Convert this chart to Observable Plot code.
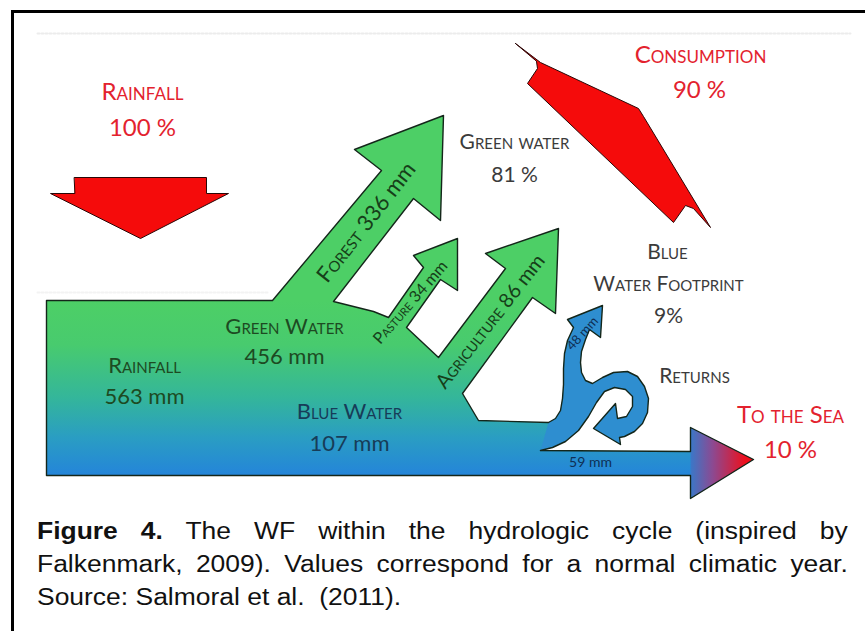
<!DOCTYPE html>
<html><head><meta charset="utf-8">
<script src="https://cdn.jsdelivr.net/npm/d3@7"></script>
<script src="https://cdn.jsdelivr.net/npm/@observablehq/plot@0.6"></script>
<style>
body{margin:0;background:#fff;}
#wrap{position:relative;width:865px;height:631px;overflow:hidden;background:#fff;}
#chart{position:absolute;left:0;top:0;}
#bl{position:absolute;left:11px;top:10px;width:3px;height:640px;background:#000;}
#bt{position:absolute;left:11px;top:10px;width:870px;height:3px;background:#000;}
#cap{position:absolute;left:37px;top:515px;width:705px;transform:scaleX(1.15);transform-origin:0 0;
 font-family:"Liberation Sans",Arial,sans-serif;font-size:23px;line-height:33px;color:#111;}
#cap .j{text-align:justify;text-align-last:justify;}
#cap b{font-weight:bold;}
</style></head>
<body><div id="wrap"><div id="chart"></div><div id="bl"></div><div id="bt"></div>
<div id="cap"></div></div>
<script>
// ---------- data: diagram outlines (vertices) ----------
const guideTop = [[37,33],[850,33]];
const guideMid = [[37,292],[268,292]];
const rainArrow = [[74,177],[206,177],[206,193],[228,193],[140,238],[50,193],[74,193]];
const consumption = [[515,43],[540,62],[638,108],[643,116],[710,227],[693,208],[685,205],[673,222],[527,83],[537,68],[536,61]];
const bodyTop = [[46,300],[272,300]];
const forestArrow = [[381,170],[354,149],[443,115],[440,220],[413,198],[333,301]];
const forestGap = [[353,306],[373,311],[388,317]];
const pastureArrow = [[423,267],[413,255],[457,238],[457,290],[440,279],[406,327]];
const agriArrow = [[438,357],[505,268],[485,253],[558,228],[555,313],[532,297],[462,393]];
const agriGap = [[478,420],[548,422]];
const returnsFlow = [[555,418],[560,410],[562,398],[563,384],[563,368],[564,353],[567,340],[573,327],
  [567,319],[602,305],[600,337],[589,329],
  [585,339],[581,351],[580,362],[581,372],[585,380],[592,383],
  [602,377],[613,372],[627,371],[637,376],[644,386],[648,398],[647,412],[642,423],[634,431],[624,436],
  [619,437],[620,444],[593,428],[615,403],[617,418],
  [626,416],[632,406],[632,396],[625,389],[614,387],[604,391],[596,402],[588,416],[578,430],[565,441],[552,447],[540,450]];
const seaArrow = [[690,451],[690,427],[753,459],[690,498],[690,475],[46,475]];
const seaHead = [[690,427],[753,459],[690,498]];

// ---------- data: labels ----------
const redLabels   = ["Rainfall","100 %","Consumption","90 %","To the Sea","10 %"];
const redPos      = [[142,99],[142,135],[700,62],[699,97],[790,422],[790,457]];
const grayLabels  = ["Green water","81 %","Blue","Water Footprint","9%","Returns"];
const grayPos     = [[514,148],[514,181],[667,258],[668,290],[668,322],[694,382]];
const greenLabels = ["Green Water","456 mm","Rainfall","563 mm"];
const greenPos    = [[284,333],[284,363],[144,372],[144,403]];
const blueLabels  = ["Blue Water","107 mm"];
const bluePos     = [[349,418],[349,450]];
const flowLabels  = ["Forest 336 mm","Pasture 34 mm","Agriculture 86 mm","48 mm","59 mm"];
const flowPos     = [[366,222],[410,302],[490,321],[582,333],[590,462]];
const flowAngle   = [-52,-49,-52,-48,0];
const captionLines = [
  ["Figure 4.", " The WF within the hydrologic cycle (inspired by"],
  ["", "Falkenmark, 2009). Values correspond for a normal climatic year."],
  ["", "Source: Salmoral et al.\u00a0 (2011)."]
];

// ---------- build ----------
const W = 865, H = 500;
const mainOutline = [...bodyTop, ...forestArrow, ...forestGap, ...pastureArrow, ...agriArrow,
  ...agriGap, ...returnsFlow, ...seaArrow];
const returnsFill = [[548,422], ...returnsFlow];
const tbl = (labels, pos, extra = {}) => labels.map((t, i) => ({text: t, x: pos[i][0], y: pos[i][1], ...extra}));
const font = "Lato, 'Open Sans', sans-serif";
const X = d => d[0], Y = d => d[1];
const isNum = t => /^[0-9]/.test(t);
const txt = (data, fs, color) => [
  Plot.text(data.filter(d => !isNum(d.text)), {x: "x", y: "y", text: "text", fontSize: fs, fill: color,
    fontFamily: font, fontVariant: "small-caps", textAnchor: "middle", dy: -0.32 * fs}),
  Plot.text(data.filter(d => isNum(d.text)), {x: "x", y: "y", text: "text", fontSize: fs, fill: color,
    fontFamily: font, fontVariant: "normal", textAnchor: "middle", dy: -0.32 * fs})
];
const flows = flowLabels.map((t, i) => ({text: t, x: flowPos[i][0], y: flowPos[i][1], a: flowAngle[i]}));
const flowSizes = [22, 16, 20, 13, 14];
const flowColors = ["#163f19", "#163f19", "#163f19", "#0f2f55", "#0f2f55"];

const chart = Plot.plot({
  width: W, height: H, margin: 0,
  x: {domain: [0, W], range: [0, W], axis: null},
  y: {domain: [0, H], range: [0, H], axis: null},
  marks: [
    Plot.line(guideTop, {x: X, y: Y, stroke: "#ececec", strokeDasharray: "2,2", strokeWidth: 2}),
    Plot.line(guideMid, {x: X, y: Y, stroke: "#f3f3f3", strokeDasharray: "2,2", strokeWidth: 2}),
    Plot.line(rainArrow, {x: X, y: Y, curve: "linear-closed", fill: "#f50b0b", stroke: "#2a0606", strokeWidth: 1}),
    Plot.line(consumption, {x: X, y: Y, curve: "linear-closed", fill: "#f50b0b", stroke: "#2a0606", strokeWidth: 1}),
    Plot.line(mainOutline, {x: X, y: Y, curve: "linear-closed", fill: "url(#gBody)", stroke: "none"}),
    Plot.line(returnsFill, {x: X, y: Y, curve: "linear-closed", fill: "#2e8ed0", stroke: "none"}),
    Plot.line(seaHead, {x: X, y: Y, curve: "linear-closed", fill: "url(#gSea)", stroke: "none"}),
    Plot.line(mainOutline, {x: X, y: Y, curve: "linear-closed", fill: "none", stroke: "#14261a", strokeWidth: 1.4}),
    ...txt(tbl(redLabels, redPos), 24, "#e3222e"),
    ...txt(tbl(grayLabels, grayPos), 21, "#3b3b3b"),
    ...txt(tbl(greenLabels, greenPos), 22, "#1d4a22"),
    ...txt(tbl(blueLabels, bluePos), 22, "#173c58"),
    ...flows.map((d, i) => Plot.text([d], {x: "x", y: "y", text: "text", rotate: d.a, fontSize: flowSizes[i],
      fill: flowColors[i], fontFamily: font, fontVariant: "normal", textAnchor: "middle"}))
  ]
});

// word + measure: word in small caps, measure ("336 mm") in normal lowercase
d3.select(chart).selectAll("text").each(function() {
  const m = this.textContent.match(/^([A-Za-z]+) (\d.*)$/);
  if (!m) return;
  this.textContent = "";
  d3.select(this).append("tspan").attr("font-variant", "small-caps").text(m[1] + " ");
  d3.select(this).append("tspan").attr("font-variant", "normal").text(m[2]);
});

// gradients positioned through the plot's own y / x scales
const sy = chart.scale("y"), sx = chart.scale("x");
const py = v => sy && sy.apply ? sy.apply(v) : v;
const px = v => sx && sx.apply ? sx.apply(v) : v;
const defs = d3.select(chart).insert("defs", ":first-child");
const gb = defs.append("linearGradient").attr("id", "gBody").attr("gradientUnits", "userSpaceOnUse")
  .attr("x1", 0).attr("x2", 0).attr("y1", py(300)).attr("y2", py(476));
[[0, "#4dcf66"], [0.25, "#48cb6e"], [0.55, "#34b69a"], [0.78, "#2a9dc3"], [1, "#2484da"]]
  .forEach(([o, c]) => gb.append("stop").attr("offset", o).attr("stop-color", c));
const gs = defs.append("linearGradient").attr("id", "gSea").attr("gradientUnits", "userSpaceOnUse")
  .attr("y1", 0).attr("y2", 0).attr("x1", px(690)).attr("x2", px(745));
[[0, "#3a78c8"], [0.4, "#8b4a92"], [1, "#ee0f1c"]]
  .forEach(([o, c]) => gs.append("stop").attr("offset", o).attr("stop-color", c));

document.getElementById("chart").appendChild(chart);

const cap = document.getElementById("cap");
captionLines.forEach(([b, t], i) => {
  const div = document.createElement("div");
  if (i < 2) div.className = "j";
  if (b) { const e = document.createElement("b"); e.textContent = b; div.appendChild(e); }
  div.appendChild(document.createTextNode(t));
  cap.appendChild(div);
});
</script></body></html>
